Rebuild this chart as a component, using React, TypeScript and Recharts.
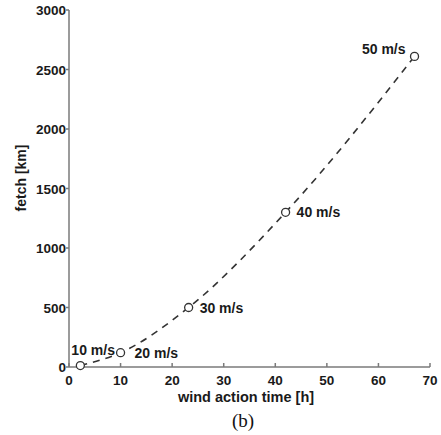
import React from 'react';
import { LineChart, Line, XAxis, YAxis, LabelList } from 'recharts';

// wind speed labels, duration [h], fetch [km]
const windSpeeds = ['10 m/s', '20 m/s', '30 m/s', '40 m/s', '50 m/s'];
const windTime = [2.2, 10, 23.2, 42, 67];
const fetchKm = [12, 120, 500, 1300, 2610];

const xTicks = [0, 10, 20, 30, 40, 50, 60, 70];
const yTicks = [0, 500, 1000, 1500, 2000, 2500, 3000];

const data = windTime.map((t, i) => ({ time: t, fetch: fetchKm[i], label: windSpeeds[i] }));

const FONT = 'Liberation Sans, Arial, sans-serif';
const AXIS = '#7a7a7a';

function XTick(props: any) {
  const { x, y, payload } = props;
  return (
    <g>
      <line x1={x} x2={x} y1={y} y2={y - 4} stroke={AXIS} strokeWidth={1.5} />
      <text x={x} y={y + 18} textAnchor="middle" fontFamily={FONT} fontWeight="bold" fontSize={13.5} fill="#1a1a1a">
        {payload.value}
      </text>
    </g>
  );
}

function YTick(props: any) {
  const { x, y, payload } = props;
  return (
    <g>
      <line x1={x} x2={x - 3} y1={y} y2={y} stroke={AXIS} strokeWidth={1.5} />
      <text x={x - 3} y={y + 5} textAnchor="end" fontFamily={FONT} fontWeight="bold" fontSize={13.5} fill="#1a1a1a">
        {payload.value}
      </text>
    </g>
  );
}

function PointLabel(props: any) {
  const { x, y, value, index } = props;
  // first and last labels sit above the point, the rest to the right
  let tx = x + 11;
  let ty = y + 5;
  let anchor = 'start';
  if (index === 0) {
    tx = x - 9;
    ty = y - 11;
  } else if (index === windSpeeds.length - 1) {
    tx = x - 9;
    ty = y - 2;
    anchor = 'end';
  } else if (index === 1) {
    tx = x + 14;
  }
  return (
    <text x={tx} y={ty} textAnchor={anchor} fontFamily={FONT} fontWeight="bold" fontSize={14} fill="#1a1a1a">
      {value}
    </text>
  );
}

export default function App() {
  return (
    <div style={{ position: 'absolute', left: 0, top: 0, width: 441, height: 435, background: '#fff' }}>
      <LineChart width={441} height={435} data={data} margin={{ top: 10, right: 11, left: 19, bottom: 48 }}>
        <XAxis
          dataKey="time"
          type="number"
          domain={[0, 70]}
          ticks={xTicks}
          tick={<XTick />}
          tickLine={false}
          tickSize={0}
          tickMargin={0}
          axisLine={{ stroke: AXIS, strokeWidth: 1.5 }}
          height={20}
          interval={0}
        />
        <YAxis
          dataKey="fetch"
          type="number"
          domain={[0, 3000]}
          ticks={yTicks}
          tick={<YTick />}
          tickLine={false}
          tickSize={0}
          tickMargin={0}
          axisLine={{ stroke: AXIS, strokeWidth: 1.5 }}
          width={50}
          interval={0}
        />
        <Line
          type="monotone"
          dataKey="fetch"
          stroke="#333"
          strokeWidth={1.6}
          strokeDasharray="7 6"
          dot={{ r: 4, stroke: '#333', strokeWidth: 1.3, fill: '#fff', strokeDasharray: '' }}
          isAnimationActive={false}
        >
          <LabelList dataKey="label" content={<PointLabel />} />
        </Line>
      </LineChart>
      <div
        style={{
          position: 'absolute', left: 21, top: 178, transform: 'translate(-50%, -50%) rotate(-90deg)',
          fontFamily: FONT, fontWeight: 'bold', fontSize: 14, color: '#1a1a1a', whiteSpace: 'nowrap',
        }}
      >
        fetch [km]
      </div>
      <div
        style={{
          position: 'absolute', left: 246, top: 397, transform: 'translate(-50%, -50%)',
          fontFamily: FONT, fontWeight: 'bold', fontSize: 14.5, color: '#1a1a1a', whiteSpace: 'nowrap',
        }}
      >
        wind action time [h]
      </div>
      <div
        style={{
          position: 'absolute', left: 243, top: 421, transform: 'translate(-50%, -50%)',
          fontFamily: 'Liberation Serif, Times New Roman, serif', fontSize: 19, color: '#111', whiteSpace: 'nowrap',
        }}
      >
        (b)
      </div>
    </div>
  );
}
